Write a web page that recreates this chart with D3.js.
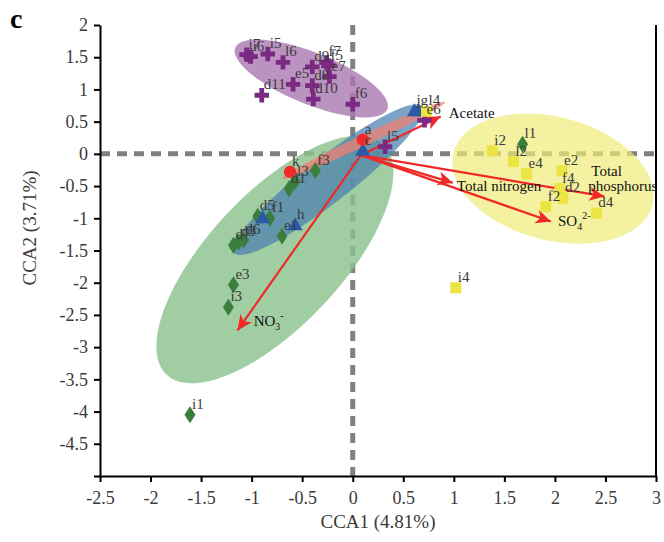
<!DOCTYPE html>
<html>
<head>
<meta charset="utf-8">
<script src="https://cdn.jsdelivr.net/npm/d3@7"></script>
<style>
body { margin: 0; background: #fff; }
svg text { font-family: "Liberation Serif", "Times New Roman", serif; }
</style>
</head>
<body>
<div id="cca"></div>
<script>
// samples per group: [label, CCA1, CCA2]
var purpleSamples = [
  ["i7", -1.05, 1.54], ["i6", -1.01, 1.51], ["i5", -0.84, 1.55], ["l6", -0.69, 1.42],
  ["d11", -0.90, 0.91], ["e5", -0.59, 1.08], ["d9", -0.40, 1.35], ["f7", -0.26, 1.42],
  ["f5", -0.24, 1.37], ["e7", -0.23, 1.20], ["d8", -0.40, 1.06], ["d10", -0.39, 0.85],
  ["f6", 0.00, 0.77], ["e6", 0.71, 0.52], ["l5", 0.32, 0.11]
];
var greenSamples = [
  ["f3", -0.37, -0.26], ["l3", -0.57, -0.43], ["d1", -0.63, -0.54], ["d5", -0.94, -0.97],
  ["f1", -0.82, -1.00], ["e1", -0.70, -1.28], ["d7", -1.18, -1.42], ["d3", -1.13, -1.37],
  ["d6", -1.08, -1.34], ["e3", -1.18, -2.03], ["i3", -1.23, -2.38], ["i1", -1.61, -4.05],
  ["l1", 1.68, 0.15]
];
var redSamples = [["a", 0.10, 0.22], ["k", -0.62, -0.28]];
var blueSamples = [
  ["", -0.89, -1.00], ["c", 0.10, 0.05], ["j", 0.61, 0.66], ["g", 0.65, 0.66], ["h", -0.57, -1.11]
];
var yellowSamples = [
  ["l4", 0.73, 0.66], ["i2", 1.38, 0.05], ["l2", 1.59, -0.12], ["e4", 1.72, -0.31],
  ["e2", 2.07, -0.26], ["f4", 2.05, -0.54], ["d2", 2.08, -0.69], ["f2", 1.91, -0.82],
  ["d4", 2.41, -0.92], ["i4", 1.02, -2.08]
];

// environmental vectors: [name, CCA1, CCA2]
var arrowOrigin = [0.08, -0.02];
var envVectors = [
  ["Acetate", 0.87, 0.58], ["Total nitrogen", 0.99, -0.45], ["SO4", 1.96, -1.05],
  ["Total phosphorus", 2.49, -0.66], ["NO3", -1.14, -2.74]
];

// group ellipses: [center x, center y, axis1 dx, dy, axis2 dx, dy] in data units
var greenEllipse = [-0.77, -1.64, 1.07, 1.79, 0.48, -0.70];
var blueEllipse = [-0.24, -0.40, 0.93, 1.14, 0.14, -0.27];
var redEllipse = [0.11, 0.21, 0.804, 0.594, 0.024, -0.075];
var purpleEllipse = [-0.41, 1.17, 0.752, -0.477, -0.096, -0.371];
var yellowEllipse = [1.981, -0.385, 0.984, -0.411, -0.158, -0.922];

var xTicks = [-2.5, -2, -1.5, -1, -0.5, 0, 0.5, 1, 1.5, 2, 2.5, 3];
var yTicks = [-5, -4.5, -4, -3.5, -3, -2.5, -2, -1.5, -1, -0.5, 0, 0.5, 1, 1.5, 2];

var width = 664, height = 542;
var svg = d3.select("#cca").append("svg")
  .attr("width", width).attr("height", height);

var x = d3.scaleLinear().domain([-2.5, 3]).range([100, 656]);
var y = d3.scaleLinear().domain([-5, 2]).range([476, 25]);

// zero lines
svg.append("line")
  .attr("x1", x(-2.5)).attr("x2", x(3)).attr("y1", y(0)).attr("y2", y(0))
  .attr("stroke", "#808080").attr("stroke-width", 5).attr("stroke-dasharray", "10,7");
svg.append("line")
  .attr("x1", x(0)).attr("x2", x(0)).attr("y1", y(2)).attr("y2", y(-5))
  .attr("stroke", "#808080").attr("stroke-width", 5).attr("stroke-dasharray", "10,7");

function ellipsePath(e) {
  var pts = d3.range(0, 361, 4).map(function(t) {
    var a = t * Math.PI / 180;
    return [x(e[0] + e[2] * Math.cos(a) + e[4] * Math.sin(a)),
            y(e[1] + e[3] * Math.cos(a) + e[5] * Math.sin(a))];
  });
  return d3.line()(pts) + "Z";
}

var ellipses = [
  [greenEllipse, "#8cc28f", 0.82],
  [blueEllipse, "#4a7fb0", 0.72],
  [redEllipse, "#f08070", 0.75],
  [purpleEllipse, "#aa78b2", 0.8],
  [yellowEllipse, "#efeb78", 0.7]
];
ellipses.forEach(function(d) {
  svg.append("path")
    .attr("d", ellipsePath(d[0]))
    .attr("fill", d[1])
    .attr("fill-opacity", d[2]);
});

// axes
svg.append("g")
  .attr("transform", "translate(0," + y(-5) + ")")
  .call(d3.axisBottom(x).tickValues(xTicks).tickSize(6).tickSizeOuter(0)
    .tickFormat(function(d) { return d; }))
  .call(function(g) {
    g.select(".domain").attr("stroke", "#000").attr("stroke-width", 2);
    g.selectAll(".tick line").attr("stroke", "#000").attr("stroke-width", 2);
    g.selectAll("text").attr("font-size", 18).attr("fill", "#3a3a3a").attr("dy", "1.05em");
  });

svg.append("g")
  .attr("transform", "translate(" + x(-2.5) + ",0)")
  .call(d3.axisLeft(y).tickValues(yTicks).tickSize(6).tickSizeOuter(0)
    .tickFormat(function(d) { return d === -5 ? "" : d; }))
  .call(function(g) {
    g.select(".domain").attr("stroke", "#000").attr("stroke-width", 2);
    g.selectAll(".tick line").attr("stroke", "#000").attr("stroke-width", 2);
    g.selectAll("text").attr("font-size", 18).attr("fill", "#3a3a3a").attr("x", -12);
  });

svg.append("line")
  .attr("x1", x(3)).attr("x2", x(3)).attr("y1", y(2)).attr("y2", y(-5))
  .attr("stroke", "#000").attr("stroke-width", 2);

// axis titles
svg.append("text")
  .attr("x", (x(-2.5) + x(3)) / 2).attr("y", 528)
  .attr("text-anchor", "middle").attr("font-size", 19).attr("fill", "#3a3a3a")
  .text("CCA1 (4.81%)");
svg.append("text")
  .attr("transform", "translate(36," + y(-1.15) + ") rotate(-90)")
  .attr("text-anchor", "middle").attr("font-size", 19).attr("fill", "#3a3a3a")
  .text("CCA2 (3.71%)");
svg.append("text")
  .attr("x", 10).attr("y", 28)
  .attr("font-size", 28).attr("font-weight", "bold").attr("fill", "#000")
  .text("c");

// arrows
svg.append("defs").append("marker")
  .attr("id", "head")
  .attr("viewBox", "-16 -8 18 16")
  .attr("refX", 0).attr("refY", 0)
  .attr("markerWidth", 18).attr("markerHeight", 16)
  .attr("markerUnits", "userSpaceOnUse")
  .attr("orient", "auto")
  .append("path")
  .attr("d", "M0,0L-15,-7L-11,0L-15,7Z")
  .attr("fill", "#f02828");

svg.selectAll(".env")
  .data(envVectors)
  .enter().append("line")
  .attr("class", "env")
  .attr("x1", x(arrowOrigin[0])).attr("y1", y(arrowOrigin[1]))
  .attr("x2", function(d) { return x(d[1]); })
  .attr("y2", function(d) { return y(d[2]); })
  .attr("stroke", "#f02828").attr("stroke-width", 2.2)
  .attr("marker-end", "url(#head)");

// markers
var markerLayer = svg.append("g");
var label = svg.append("g")
  .attr("font-size", 15).attr("fill", "#3a3a3a");

function drawGroup(data, pathD, color) {
  markerLayer.selectAll(null)
    .data(data)
    .enter().append("path")
    .attr("d", pathD)
    .attr("transform", function(d) { return "translate(" + x(d[1]) + "," + y(d[2]) + ")"; })
    .attr("fill", color);
  label.selectAll(null)
    .data(data)
    .enter().append("text")
    .attr("x", function(d) { return x(d[1]) + 2; })
    .attr("y", function(d) { return y(d[2]) - 6; })
    .text(function(d) { return d[0]; });
}

drawGroup(purpleSamples, d3.symbol(d3.symbolCross, 115)(), "#7a2a83");
drawGroup(greenSamples, "M0,-8.5L5.5,0L0,8.5L-5.5,0Z", "#3a7d3c");
drawGroup(blueSamples, "M0,-8L7.5,5L-7.5,5Z", "#2a5aa6");
drawGroup(redSamples, d3.symbol(d3.symbolCircle, 120)(), "#f02a2a");
drawGroup(yellowSamples, "M-5.5,-5.5H5.5V5.5H-5.5Z", "#ece443");

// vector labels
var envLabel = svg.append("g").attr("font-size", 15).attr("fill", "#111");
envLabel.append("text").attr("x", x(0.95)).attr("y", y(0.56)).text("Acetate");
envLabel.append("text").attr("x", x(1.03)).attr("y", y(-0.57)).text("Total nitrogen");
envLabel.append("text").attr("x", x(2.36)).attr("y", y(-0.35)).text("Total");
envLabel.append("text").attr("x", x(2.33)).attr("y", y(-0.57)).text("phosphorus");
var so4 = envLabel.append("text").attr("x", x(2.03)).attr("y", y(-1.12));
so4.append("tspan").text("SO");
so4.append("tspan").attr("font-size", 10).attr("dy", 4).text("4");
so4.append("tspan").attr("font-size", 10).attr("dy", -11).text("2-");
var no3 = envLabel.append("text").attr("x", x(-0.98)).attr("y", y(-2.67));
no3.append("tspan").text("NO");
no3.append("tspan").attr("font-size", 10).attr("dy", 4).text("3");
no3.append("tspan").attr("font-size", 10).attr("dy", -11).text("-");
</script>
</body>
</html>
